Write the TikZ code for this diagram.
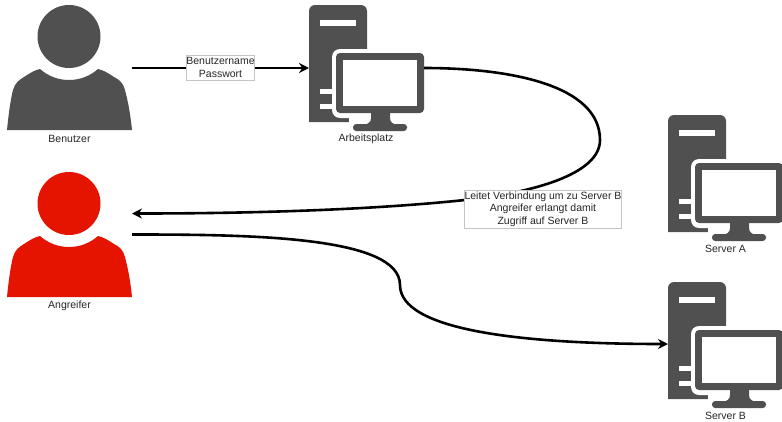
\documentclass[tikz,border=0pt]{standalone}
\usepackage{fontspec}
\setmainfont{Liberation Sans}
\usetikzlibrary{arrows.meta}
\definecolor{icongray}{HTML}{505050}
\definecolor{attackred}{HTML}{E51400}
\definecolor{boxgray}{HTML}{C4C4C4}
\tikzset{
  x=1pt,y=-1pt,
  caption/.style={font=\fontsize{10.5}{12.5}\selectfont,text=black!85,inner sep=0pt,anchor=center},
  flow/.style={line width=2.6pt,black,-{Stealth[length=10pt,width=10pt]}},
  flowlabel/.style={draw=boxgray,fill=white,line width=.6pt,inner sep=0pt,align=center,font=\fontsize{10.5}{12.6}\selectfont,text=black!85,anchor=center},
  pics/person/.style={code={
    \fill[#1] (69,36.5) circle (31.5);
    \fill[#1] (7,130) .. controls (9,110) and (11,98) .. (13,90)
      .. controls (15,83) and (19,80) .. (24,77)
      .. controls (30,73) and (35,70) .. (40,69)
      .. controls (48,76) and (58,80) .. (69,80)
      .. controls (80,80) and (90,76) .. (98,69)
      .. controls (103,70) and (108,73) .. (114,77)
      .. controls (120,80) and (123,83) .. (125,90)
      .. controls (127,98) and (130,110) .. (132,130) -- cycle;
  }},
  pics/workstation/.style={code={
    \fill[icongray] (0,117) -- (0,6) .. controls (0,2.7) and (2.7,0) .. (6,0) -- (52,0)
      .. controls (55.3,0) and (58,2.7) .. (58,6) -- (58,117) -- cycle;
    \fill[white] (11,15) rectangle (47,20.5);
    \fill[white] (11,83.5) rectangle (25,89);
    \fill[white] (11,98.5) rectangle (25,104);
    \fill[white,rounded corners=8pt] (23,44) rectangle (120,113);
    \fill[white,rounded corners=3pt] (40,108) rectangle (105,130);
    \fill[icongray,rounded corners=4pt] (27,48) rectangle (115,108);
    \fill[white] (34,55) rectangle (108,101);
    \fill[icongray] (62,107) -- (81,107) -- (81,113) .. controls (81,117) and (84,119.5) .. (88,119.5)
      -- (62,122) -- (55,119.5) .. controls (59,119.5) and (62,117) .. (62,113) -- cycle;
    \fill[icongray,rounded corners=3.2pt] (44,119) rectangle (98,126);
  }},
}
\begin{document}
\begin{tikzpicture}
\useasboundingbox (0,0) rectangle (782,421);
\fill[white] (0,0) rectangle (782,421);
% icons
\pic at (0,0) {person=icongray};
\pic at (0,167) {person=attackred};
\pic at (309,5) {workstation};
\pic at (668,115) {workstation};
\pic at (668,282) {workstation};
% captions
\node[caption] (benutzer) at (69.5,138.5) {Benutzer};
\node[caption] (angreifer) at (69.5,305.5) {Angreifer};
\node[caption] (arbeitsplatz) at (366,138.5) {Arbeitsplatz};
\node[caption] (servera) at (725.5,248.5) {Server A};
\node[caption] (serverb) at (725.5,415.5) {Server B};
% connector ends
\coordinate (benutzerR) at (132,68);
\coordinate (arbeitsplatzL) at (309,68);
\coordinate (arbeitsplatzR) at (424,68);
\coordinate (angreiferIn) at (132,213.5);
\coordinate (angreiferOut) at (132,234.5);
\coordinate (serverbL) at (668,344);
% connectors
\draw[flow] (benutzerR) -- (arbeitsplatzL);
\draw[flow] (arbeitsplatzR) .. controls (510,68) and (600,85) .. (600,140)
  .. controls (600,175) and (530,193) .. (465,200)
  .. controls (370,210) and (250,213.5) .. (angreiferIn);
\draw[flow] (angreiferOut) .. controls (250,234.5) and (400,236) .. (400,285)
  .. controls (400,330) and (520,344) .. (serverbL);
% labels
\node[flowlabel,minimum width=67pt,minimum height=25pt] (credentials) at (220.5,67.5) {Benutzername\\Passwort};
\node[flowlabel,minimum width=156pt,minimum height=38pt] (redirect) at (543,209) {Leitet Verbindung um zu Server B\\Angreifer erlangt damit\\Zugriff auf Server B};
\end{tikzpicture}
\end{document}
